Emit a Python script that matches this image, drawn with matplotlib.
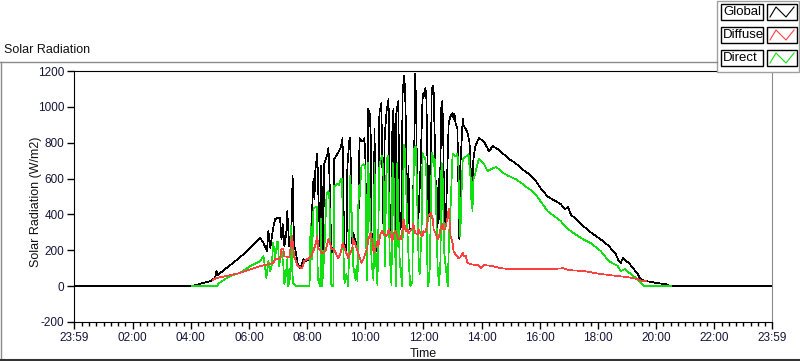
import numpy as np
import matplotlib
matplotlib.use("Agg")
import matplotlib.pyplot as plt
from matplotlib.patches import Rectangle
from matplotlib.lines import Line2D

plt.rcParams['font.family'] = ['Liberation Sans', 'DejaVu Sans']

# (minutes after midnight, W/m2)
GLOBAL = [(-1, 0), (243, 0), (259, 13), (280, 28), (290, 46), (293, 84), (296, 60), (301, 74),
          (321, 117), (342, 162), (363, 214), (383, 270), (390, 240), (397, 195), (400, 307),
          (404, 214), (410, 325), (414, 374), (420, 381), (424, 380), (427, 262), (430, 345),
          (433, 223), (437, 300), (439, 418), (443, 223), (447, 230), (450, 614), (453, 223),
          (456, 200), (460, 128), (466, 100), (472, 150), (478, 140), (487, 156), (489, 350),
          (493, 597), (495, 485), (497, 653), (501, 737), (503, 519), (507, 223), (509, 670),
          (513, 184), (515, 680), (522, 737), (524, 770), (526, 614), (530, 184), (534, 206),
          (536, 709), (542, 737), (546, 753), (550, 780), (553, 826), (555, 446), (557, 240),
          (561, 184), (563, 670), (567, 809), (569, 826), (571, 519), (573, 240), (575, 296),
          (584, 212), (586, 374), (588, 826), (592, 809), (596, 809), (598, 826), (600, 725),
          (602, 296), (604, 184), (606, 988), (609, 965), (611, 853), (613, 296), (617, 212),
          (619, 876), (621, 262), (623, 195), (627, 234), (629, 965), (633, 1021), (635, 670),
          (637, 350), (640, 837), (644, 977), (648, 1043), (650, 296), (653, 320), (656, 910),
          (658, 988), (662, 296), (664, 965), (668, 1032), (671, 318), (674, 330), (677, 1077),
          (680, 1172), (682, 1100), (684, 853), (687, 318), (689, 670), (691, 318), (697, 320),
          (701, 781), (703, 1183), (705, 965), (708, 318), (710, 407), (714, 670), (718, 1043),
          (720, 1077), (722, 1060), (724, 1105), (726, 1043), (730, 407), (732, 670), (734, 390),
          (737, 1100), (739, 1116), (741, 1077), (743, 853), (747, 350), (749, 318), (751, 597),
          (753, 374), (757, 1021), (759, 1032), (761, 781), (763, 318), (766, 350), (772, 910),
          (776, 949), (780, 965), (782, 932), (784, 960), (786, 910), (790, 876), (792, 575),
          (794, 262), (796, 670), (801, 932), (803, 893), (807, 880), (811, 853), (815, 800),
          (817, 670), (819, 575), (820, 620), (821, 558), (823, 709), (827, 781), (830, 798),
          (834, 826), (844, 809), (852, 770), (855, 753), (863, 781), (873, 764), (879, 753),
          (885, 737), (896, 709), (910, 686), (920, 660), (925, 650), (935, 630), (945, 605),
          (951, 590), (962, 545), (976, 500), (1003, 458), (1012, 430), (1018, 440), (1024, 400),
          (1045, 346), (1065, 300), (1086, 260), (1102, 225), (1117, 178), (1121, 150),
          (1127, 128), (1131, 156), (1144, 128), (1154, 95), (1162, 67), (1168, 39), (1179, 28),
          (1203, 17), (1220, 11), (1230, 0), (1439, 0)]

DIFFUSE = [(285, 35), (294, 46), (321, 61), (342, 74), (363, 94), (383, 112), (400, 122),
           (410, 130), (414, 150), (424, 150), (427, 206), (431, 206), (433, 167), (443, 160),
           (449, 279), (451, 223), (453, 167), (460, 112), (470, 100), (474, 140), (480, 150),
           (489, 167), (497, 230), (501, 279), (503, 212), (511, 184), (518, 195), (524, 262),
           (530, 212), (536, 200), (544, 156), (549, 184), (553, 240), (557, 212), (561, 184),
           (565, 156), (573, 212), (575, 262), (582, 212), (586, 178), (592, 128), (596, 150),
           (600, 184), (604, 212), (606, 262), (611, 296), (615, 240), (617, 184), (621, 212),
           (625, 251), (627, 223), (631, 290), (635, 307), (637, 296), (642, 279), (646, 290),
           (648, 318), (652, 290), (656, 251), (658, 290), (662, 307), (666, 279), (668, 262),
           (673, 262), (677, 318), (679, 374), (683, 307), (687, 318), (689, 296), (697, 318),
           (699, 350), (703, 296), (708, 290), (710, 318), (714, 290), (718, 279), (720, 307),
           (724, 300), (728, 350), (730, 390), (735, 407), (739, 374), (741, 318), (745, 296),
           (749, 262), (751, 265), (755, 318), (759, 350), (761, 318), (765, 320), (770, 390),
           (772, 430), (776, 279), (780, 240), (782, 195), (786, 178), (790, 167), (792, 156),
           (796, 160), (801, 184), (803, 167), (807, 170), (811, 128), (817, 123), (827, 117),
           (832, 120), (838, 100), (844, 117), (855, 115), (865, 110), (879, 100), (900, 95),
           (920, 97), (940, 97), (960, 95), (982, 95), (1009, 100), (1018, 90), (1051, 84),
           (1080, 70), (1106, 61), (1142, 50), (1162, 39), (1172, 28), (1179, 28)]

DIRECT = [(243, 0), (294, 0), (296, 10), (300, 20), (304, 28), (321, 56), (342, 74), (363, 112),
          (383, 140), (390, 167), (396, 46), (400, 140), (404, 84), (407, 120), (410, 240),
          (414, 160), (418, 245), (420, 245), (422, 112), (427, 200), (431, 112), (433, 11),
          (436, 60), (439, 150), (441, 0), (445, 50), (447, 335), (449, 100), (451, 20), (456, 0),
          (485, 0), (487, 350), (490, 150), (493, 435), (497, 440), (500, 440), (502, 40),
          (507, 0), (509, 374), (511, 0), (515, 167), (520, 513), (524, 530), (526, 485),
          (530, 0), (534, 0), (536, 558), (542, 570), (546, 565), (549, 597), (552, 597),
          (554, 262), (557, 17), (561, 67), (565, 0), (569, 614), (571, 485), (575, 112),
          (580, 34), (582, 112), (584, 28), (586, 558), (588, 485), (592, 670), (596, 680),
          (600, 670), (602, 223), (604, 34), (606, 686), (609, 485), (613, 128), (617, 34),
          (619, 686), (621, 195), (625, 6), (629, 670), (632, 709), (635, 725), (638, 575),
          (640, 112), (644, 709), (647, 725), (650, 195), (654, 6), (656, 686), (658, 670),
          (661, 230), (664, 0), (666, 686), (668, 430), (671, 140), (676, 0), (679, 787),
          (681, 781), (685, 485), (687, 296), (690, 112), (693, 0), (697, 20), (699, 530),
          (701, 764), (704, 781), (706, 614), (710, 128), (712, 67), (716, 296), (718, 742),
          (720, 725), (724, 709), (726, 614), (728, 112), (730, 0), (733, 100), (737, 742),
          (739, 725), (741, 670), (743, 709), (745, 575), (749, 112), (752, 6), (755, 140),
          (757, 686), (759, 670), (761, 440), (763, 184), (770, 0), (773, 296), (776, 446),
          (780, 737), (786, 725), (790, 737), (792, 670), (794, 374), (796, 279), (798, 485),
          (801, 709), (805, 720), (809, 725), (813, 737), (816, 630), (818, 597), (819, 446),
          (820, 500), (821, 418), (823, 597), (827, 630), (832, 686), (834, 709), (844, 686),
          (852, 642), (860, 653), (869, 664), (876, 653), (885, 630), (896, 614), (910, 597),
          (925, 569), (935, 547), (945, 530), (951, 513), (976, 418), (1003, 363), (1018, 318),
          (1045, 268), (1065, 240), (1086, 195), (1102, 140), (1121, 112), (1127, 84),
          (1135, 95), (1148, 67), (1158, 45), (1164, 28), (1172, 11), (1175, 0), (1230, 0)]

series_names = ['Global', 'Diffuse', 'Direct']
series_colors = ['#000000', '#ff4040', '#10e010']

xtick_pos = [-1, 120, 240, 360, 480, 600, 720, 840, 960, 1080, 1200, 1320, 1439]
xtick_lab = ['23:59', '02:00', '04:00', '06:00', '08:00', '10:00', '12:00',
             '14:00', '16:00', '18:00', '20:00', '22:00', '23:59']
yticks = [-200, 0, 200, 400, 600, 800, 1000, 1200]

W, H = 800, 361
fig = plt.figure(figsize=(W / 100, H / 100), dpi=100)
fig.patch.set_facecolor('white')


def fx(px):
    return px / W


def fy(py):
    return 1 - py / H


ax = fig.add_axes([fx(74), fy(322), fx(772) - fx(74), fy(71) - fy(322)])

# draw order: global, direct, diffuse
for data, col in [(GLOBAL, series_colors[0]), (DIRECT, series_colors[2]), (DIFFUSE, series_colors[1])]:
    t, w = zip(*data)
    ax.plot(t, w, color=col, lw=0.5, antialiased=False)

ax.set_xlim(-1, 1439)
ax.set_ylim(-200, 1200)
ax.set_xticks(xtick_pos)
ax.set_xticklabels(xtick_lab)
ax.set_xticks([m for m in range(15, 1439, 15) if m % 120 != 0], minor=True)
ax.set_yticks(yticks)
ax.set_yticklabels([str(v) for v in yticks])

ax.tick_params(axis='both', which='major', direction='out', length=5, width=1,
               labelsize=8.5, labelcolor='#14143a', pad=2)
ax.tick_params(axis='x', which='minor', direction='out', length=3, width=1)
for s in ['left', 'top', 'bottom']:
    ax.spines[s].set_color('black')
ax.spines['right'].set_color('#8a8a8a')

ax.set_xlabel('Time', fontsize=9, color='#111111')
ax.xaxis.set_label_coords(0.5, -0.102)
ax.set_ylabel('Solar Radiation (W/m2)', fontsize=9, color='#111111')
ax.yaxis.set_label_coords(-0.046, 0.48)

# panel frame and caption
fig.add_artist(Line2D([fx(0), fx(717)], [fy(62), fy(62)], color='#8a8a8a', lw=1))
fig.add_artist(Line2D([fx(1), fx(1)], [fy(62), fy(359)], color='#8a8a8a', lw=1))
fig.add_artist(Line2D([fx(0), fx(800)], [fy(359.5), fy(359.5)], color='#333333', lw=1.5))
fig.text(fx(4), fy(50), 'Solar Radiation', fontsize=9, va='center', ha='left', color='#111111')

# legend panel
fig.add_artist(Rectangle((fx(717), fy(72)), fx(799) - fx(717), fy(1) - fy(72),
                         facecolor='white', edgecolor='#a0a0a0', lw=1))
rows_top = [4, 27, 50]
for name, col, top in zip(series_names, series_colors, rows_top):
    bot = top + 16
    fig.add_artist(Rectangle((fx(721), fy(bot)), fx(763) - fx(721), fy(top) - fy(bot),
                             facecolor='white', edgecolor='black', lw=1))
    fig.text(fx(723), fy((top + bot) / 2), name, fontsize=9.5, va='center', ha='left')
    fig.add_artist(Rectangle((fx(767), fy(bot)), fx(797) - fx(767), fy(top) - fy(bot),
                             facecolor='white', edgecolor='black', lw=1))
    zx = [770, 776, 786, 794]
    zy = [bot - 3, top + 3, bot - 3, top + 3]
    fig.add_artist(Line2D([fx(v) for v in zx], [fy(v) for v in zy], color=col, lw=0.8))

fig.savefig('out.png', dpi=100)
